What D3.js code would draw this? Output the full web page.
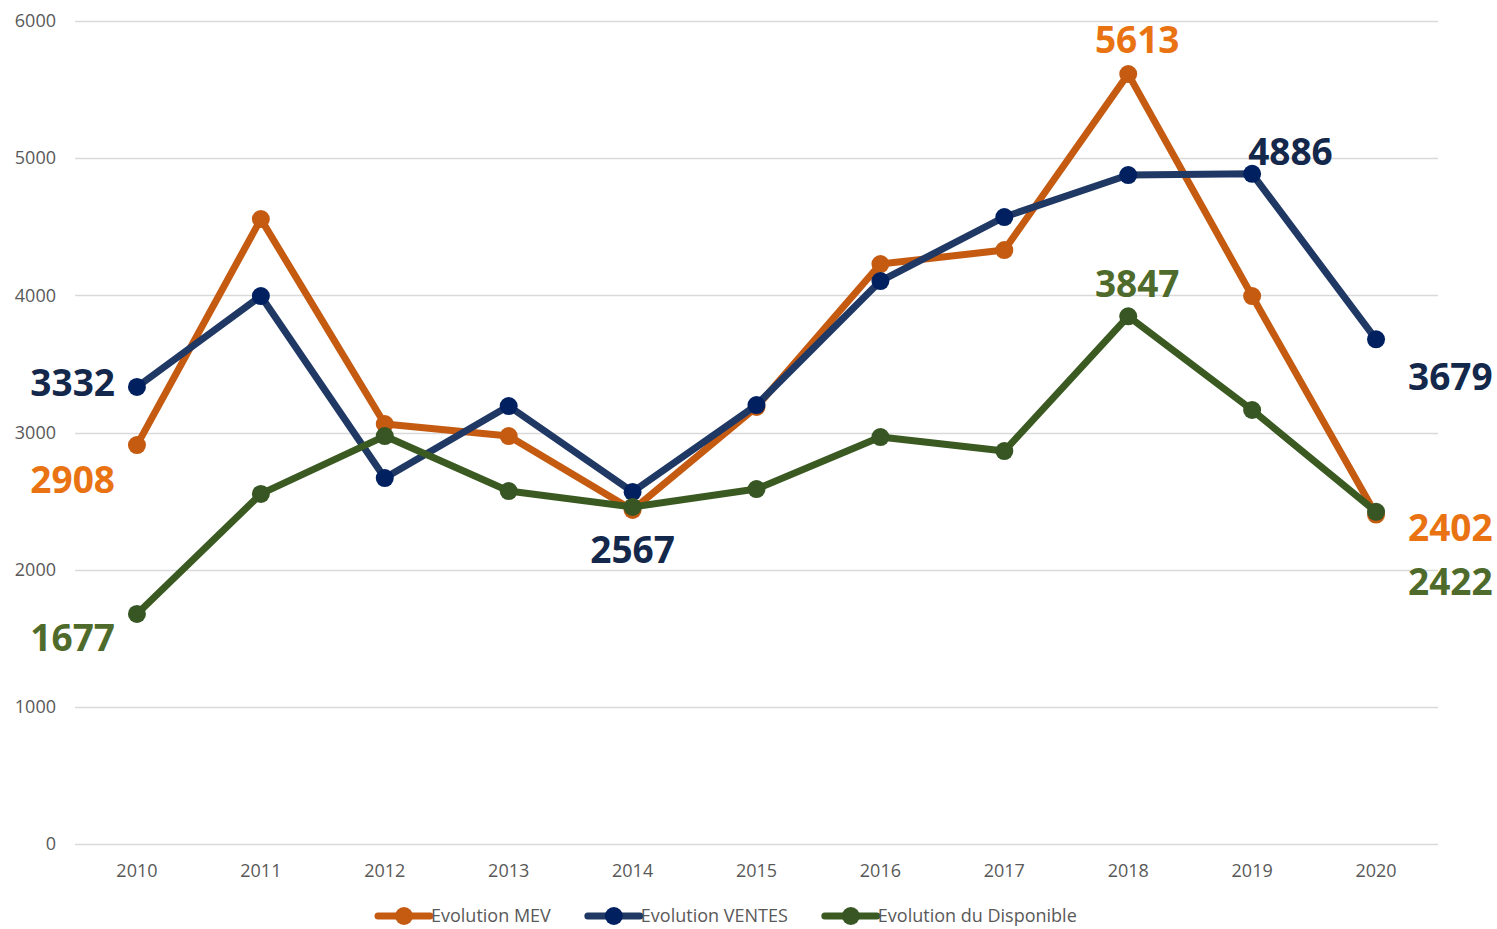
<!DOCTYPE html>
<html>
<head>
<meta charset="utf-8">
<script src="https://cdn.jsdelivr.net/npm/d3@7"></script>
<style>
	body { margin: 0; background: #fff; }
	svg { display: block; }
</style>
</head>
<body>
<svg id="graphic" width="1497" height="929"></svg>
<script>
var years = [2010, 2011, 2012, 2013, 2014, 2015, 2016, 2017, 2018, 2019, 2020];
var yTicks = [0, 1000, 2000, 3000, 4000, 5000, 6000];

var mev = [2908, 4556, 3062, 2974, 2435, 3186, 4228, 4330, 5613, 3995, 2402];
var ventes = [3332, 3995, 2668, 3193, 2567, 3200, 4104, 4571, 4877, 4886, 3679];
var dispo = [1677, 2552, 2974, 2573, 2457, 2588, 2967, 2865, 3847, 3164, 2422];

var seriesNames = ["Evolution MEV", "Evolution VENTES", "Evolution du Disponible"];

// line / marker / label colours per series
var STYLES = [
	{ line: "#C55A11", dot: "#C55A11", label: "#E97312" },
	{ line: "#203864", dot: "#002060", label: "#14284B" },
	{ line: "#3A5A22", dot: "#375623", label: "#4F6B2B" }
];

// which points get a value label, and where (series, year index, dx, dy, anchor)
var LABELS = [
	[0, 0, -22, 48, "end"],
	[0, 8, 9, -21, "middle"],
	[0, 10, 32, 26, "start"],
	[1, 0, -22, 9, "end"],
	[1, 4, 0, 71, "middle"],
	[1, 9, -4, -9, "start"],
	[1, 10, 32, 51, "start"],
	[2, 0, -22, 37, "end"],
	[2, 8, 9, -19, "middle"],
	[2, 10, 32, 83, "start"]
];

var svg = d3.select("svg");
var data = [mev, ventes, dispo];

var x = d3.scaleBand()
	.domain(years)
	.range([75, 1438]);

var y = d3.scaleLinear()
	.domain([0, 6000])
	.range([844, 21]);

function cx(yr) { return x(yr) + x.bandwidth() / 2; }

// gridlines
svg.append("g").selectAll("line")
	.data(yTicks)
	.enter().append("line")
		.attr("x1", 75)
		.attr("x2", 1438)
		.attr("y1", function(d) { return Math.round(y(d)) + 0.5; })
		.attr("y2", function(d) { return Math.round(y(d)) + 0.5; })
		.attr("stroke", "#D9D9D9")
		.attr("stroke-width", 1.3);

// y tick labels
svg.append("g")
	.attr("font-family", "'Open Sans', sans-serif")
	.attr("font-size", 18)
	.attr("fill", "#595959")
	.attr("text-anchor", "end")
	.selectAll("text")
	.data(yTicks)
	.enter().append("text")
		.attr("x", 56)
		.attr("y", function(d) { return y(d); })
		.attr("dy", "0.35em")
		.text(function(d) { return d; });

// x tick labels
svg.append("g")
	.attr("font-family", "'Open Sans', sans-serif")
	.attr("font-size", 18)
	.attr("fill", "#595959")
	.attr("text-anchor", "middle")
	.selectAll("text")
	.data(years)
	.enter().append("text")
		.attr("x", function(d) { return cx(d); })
		.attr("y", 871)
		.attr("dy", "0.35em")
		.text(function(d) { return d; });

var line = d3.line()
	.x(function(d, i) { return cx(years[i]); })
	.y(function(d) { return y(d); });

for (var s = 0; s < data.length; s++) {
	var g = svg.append("g");

	g.append("path")
		.datum(data[s])
		.attr("fill", "none")
		.attr("stroke", STYLES[s].line)
		.attr("stroke-width", 7)
		.attr("stroke-linejoin", "round")
		.attr("d", line);

	g.selectAll("circle")
		.data(data[s])
		.enter().append("circle")
			.attr("cx", function(d, i) { return cx(years[i]); })
			.attr("cy", function(d) { return y(d); })
			.attr("r", 9)
			.attr("fill", STYLES[s].dot);
}

// value labels
svg.append("g")
	.attr("font-family", "'Open Sans', sans-serif")
	.attr("font-weight", "bold")
	.attr("font-size", 37)
	.selectAll("text")
	.data(LABELS)
	.enter().append("text")
		.attr("x", function(d) { return cx(years[d[1]]) + d[2]; })
		.attr("y", function(d) { return y(data[d[0]][d[1]]) + d[3]; })
		.attr("text-anchor", function(d) { return d[4]; })
		.attr("fill", function(d) { return STYLES[d[0]].label; })
		.text(function(d) { return data[d[0]][d[1]]; });

// legend
var legend = svg.append("g")
	.attr("font-family", "'Open Sans', sans-serif")
	.attr("font-size", 18)
	.attr("fill", "#595959");

var lx = 378;
for (var s = 0; s < seriesNames.length; s++) {
	var item = legend.append("g").attr("transform", "translate(" + lx + ",916)");
	item.append("line")
		.attr("x1", 0).attr("x2", 52)
		.attr("stroke", STYLES[s].line)
		.attr("stroke-width", 7)
		.attr("stroke-linecap", "round");
	item.append("circle")
		.attr("cx", 26)
		.attr("r", 9)
		.attr("fill", STYLES[s].dot);
	var t = item.append("text")
		.attr("x", 53)
		.attr("dy", "0.35em")
		.text(seriesNames[s]);
	lx += 53 + t.node().getComputedTextLength() + 37;
}
</script>
</body>
</html>
